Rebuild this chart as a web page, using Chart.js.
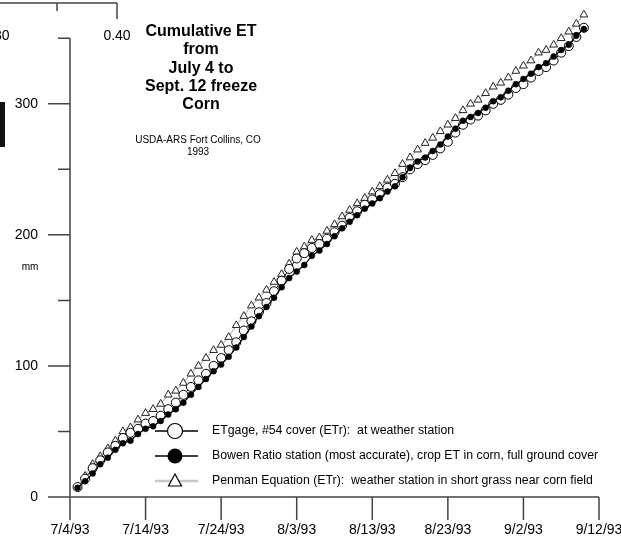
<!DOCTYPE html>
<html>
<head>
<meta charset="utf-8">
<script src="https://cdn.jsdelivr.net/npm/chart.js@4"></script>
<style>
  body { margin: 0; background: #fff; }
  canvas { display: block; }
</style>
</head>
<body>
<canvas id="etChart" width="621" height="539"></canvas>
<script>
// days after 7/4/93
const days = [1,2,3,4,5,6,7,8,9,10,11,12,13,14,15,16,17,18,19,20,21,22,23,24,25,26,27,28,29,30,31,32,33,34,
  35,36,37,38,39,40,41,42,43,44,45,46,47,48,49,50,51,52,53,54,55,56,57,58,59,60,61,62,63,64,65,66,67,68];

const etgage = [7.6,14,22,28,34,39,45,49,52,56,58,62,67,72,78,84,89,94,100,106,112,118,127,134,141,148,157,165,174,182,
  186,190,193,197,202,207,213,218,223,227,231,236,239,244,250,254,257,261,266,271,278,284,288,291,295,300,303,307,312,315,
  320,325,328,333,339,344,351,358];
const bowen = [7,12,18,25,30,36,41,43,48,52,54,58,63,67,72,78,84,90,96,101,107,114,122,130,138,145,152,160,167,172,
  177,184,188,193,199,205,210,215,220,224,228,233,237,244,251,256,259,264,269,275,281,287,290,293,297,302,305,310,315,319,
  323,328,331,336,341,345,352,357];
const penman = [7.6,16,25,31,37,43,50,53,59,64,67,71,78,81,87,94,100,106,112,116,122,131,138,146,152,158,164,170,178,187,
  191,196,198,203,208,214,219,224,228,233,237,242,247,254,259,265,270,274,279,284,289,295,300,303,308,313,316,320,325,329,
  333,339,341,345,350,355,361,368];

const seriesNames = [
  'ETgage, #54 cover (ETr):  at weather station',
  'Bowen Ratio station (most accurate), crop ET in corn, full ground cover',
  'Penman Equation (ETr):  weather station in short grass near corn field'
];

const xTickDays = [0, 10, 20, 30, 40, 50, 60, 70];
const xTickLabels = ['7/4/93', '7/14/93', '7/24/93', '8/3/93', '8/13/93', '8/23/93', '9/2/93', '9/12/93'];
const yTickLabels = [0, 100, 200, 300];
const yMinorTicks = [50, 150, 250, 350];

const titleLines = ['Cumulative ET', 'from', 'July 4 to', 'Sept. 12 freeze', 'Corn'];
const noteLines = ['USDA-ARS Fort Collins, CO', '1993'];

const FONT = "'Liberation Sans', Arial, sans-serif";

function pts(vals) {
  return days.map((d, i) => ({ x: d, y: vals[i] }));
}

const drawAxes = {
  id: 'drawAxes',
  beforeDatasetsDraw(chart) {
    const ctx = chart.ctx;
    const xs = chart.scales.x, ys = chart.scales.y;
    const left = xs.getPixelForValue(0), right = xs.getPixelForValue(70);
    const y0 = ys.getPixelForValue(0), top = ys.getPixelForValue(350);
    ctx.save();
    ctx.strokeStyle = '#444';
    ctx.lineWidth = 1.5;
    ctx.beginPath();
    ctx.moveTo(left, top); ctx.lineTo(left, y0 + 23);
    ctx.moveTo(left, y0); ctx.lineTo(right, y0);
    xTickDays.forEach(d => {
      const px = xs.getPixelForValue(d);
      ctx.moveTo(px, y0); ctx.lineTo(px, y0 + 23);
    });
    yTickLabels.forEach(v => {
      const py = ys.getPixelForValue(v);
      ctx.moveTo(left - 22, py); ctx.lineTo(left, py);
    });
    yMinorTicks.forEach(v => {
      const py = ys.getPixelForValue(v);
      ctx.moveTo(left - 12, py); ctx.lineTo(left, py);
    });
    ctx.stroke();

    ctx.fillStyle = '#000';
    ctx.font = '14px ' + FONT;
    ctx.textAlign = 'right';
    ctx.textBaseline = 'middle';
    yTickLabels.forEach(v => ctx.fillText(String(v), left - 32, ys.getPixelForValue(v)));
    ctx.textAlign = 'center';
    xTickLabels.forEach((t, i) => ctx.fillText(t, xs.getPixelForValue(xTickDays[i]), y0 + 33));
    ctx.font = '10px ' + FONT;
    ctx.fillText('mm', 30, ys.getPixelForValue(175));

    // piece of the neighbouring figure at the top-left
    ctx.beginPath();
    ctx.moveTo(0, 3); ctx.lineTo(117, 3);
    ctx.moveTo(57, 3); ctx.lineTo(57, 11);
    ctx.moveTo(117, 3); ctx.lineTo(117, 19);
    ctx.stroke();
    ctx.font = '14px ' + FONT;
    ctx.fillText('0.40', 117, 36);
    ctx.fillText('0.30', -4, 36);
    ctx.fillStyle = '#111';
    ctx.fillRect(0, 102, 5, 45);
    ctx.restore();
  },
  afterDraw(chart) {
    const ctx = chart.ctx;
    ctx.save();
    ctx.fillStyle = '#000';
    ctx.textAlign = 'center';
    ctx.textBaseline = 'middle';
    ctx.font = 'bold 16px ' + FONT;
    titleLines.forEach((t, i) => ctx.fillText(t, 201, 31.5 + i * 18.3));
    ctx.font = '10px ' + FONT;
    noteLines.forEach((t, i) => ctx.fillText(t, 198, 140 + i * 12.5));

    // legend
    const rows = [431, 456, 481];
    rows.forEach((ry, i) => {
      ctx.beginPath();
      ctx.moveTo(155, ry); ctx.lineTo(198, ry);
      ctx.strokeStyle = i === 2 ? '#c8c8c8' : '#000';
      ctx.lineWidth = i === 2 ? 2.5 : 1.6;
      ctx.stroke();
      ctx.lineWidth = 1.2;
      ctx.strokeStyle = '#000';
      if (i === 0) {
        ctx.beginPath(); ctx.arc(175, ry, 7.5, 0, Math.PI * 2);
        ctx.fillStyle = '#fff'; ctx.fill(); ctx.stroke();
      } else if (i === 1) {
        ctx.beginPath(); ctx.arc(175, ry, 7.5, 0, Math.PI * 2);
        ctx.fillStyle = '#000'; ctx.fill();
      } else {
        ctx.beginPath();
        ctx.moveTo(175, ry - 7); ctx.lineTo(181.5, ry + 5); ctx.lineTo(168.5, ry + 5); ctx.closePath();
        ctx.fillStyle = '#fff'; ctx.fill(); ctx.stroke();
      }
      ctx.fillStyle = '#000';
      ctx.textAlign = 'left';
      ctx.font = '12.3px ' + FONT;
      ctx.fillText(seriesNames[i], 212, ry);
    });
    ctx.restore();
  }
};

new Chart(document.getElementById('etChart'), {
  type: 'line',
  data: {
    datasets: [
      {
        label: seriesNames[1], data: pts(bowen), order: 1, clip: false,
        borderColor: '#000', borderWidth: 1.2,
        pointRadius: 3, pointBackgroundColor: '#000', pointBorderColor: '#000', pointBorderWidth: 0.5
      },
      {
        label: seriesNames[0], data: pts(etgage), order: 2, clip: false,
        borderColor: '#000', borderWidth: 1,
        pointRadius: 4.5, pointBackgroundColor: '#fff', pointBorderColor: '#000', pointBorderWidth: 1
      },
      {
        label: seriesNames[2], data: pts(penman), order: 3, clip: false,
        borderColor: '#bdbdbd', borderWidth: 1.2,
        pointStyle: 'triangle', pointRadius: 4.5,
        pointBackgroundColor: '#fff', pointBorderColor: '#222', pointBorderWidth: 1
      }
    ]
  },
  options: {
    responsive: false,
    animation: false,
    devicePixelRatio: 1,
    layout: { padding: { left: 70, right: 22, top: 4, bottom: 42 } },
    plugins: { legend: { display: false }, tooltip: { enabled: false } },
    scales: {
      x: { type: 'linear', min: 0, max: 70, display: false },
      y: { type: 'linear', min: 0, max: 375, display: false }
    }
  },
  plugins: [drawAxes]
});
</script>
</body>
</html>
